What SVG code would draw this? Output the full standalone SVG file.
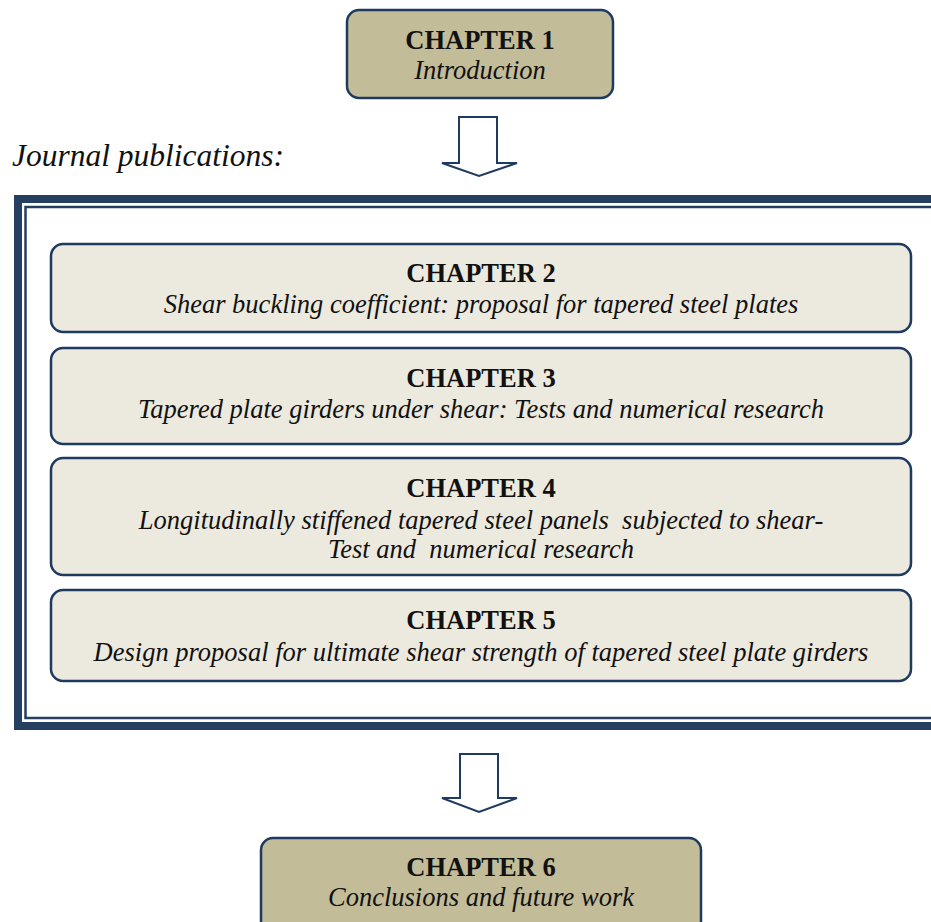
<svg xmlns="http://www.w3.org/2000/svg" width="931" height="922" viewBox="0 0 931 922">
<style>
.dark{fill:#C3BC98;stroke:#1F3A5F;stroke-width:2.5}
.light{fill:#ECE9DF;stroke:#1F3A5F;stroke-width:2.5}
.arrow{fill:#FFFFFF;stroke:#1F3A5F;stroke-width:2}
.t{font-family:"Liberation Serif",serif;font-weight:bold;font-size:26.5px;fill:#111;text-anchor:middle}
.s{font-family:"Liberation Serif",serif;font-style:italic;font-size:26.5px;fill:#111;text-anchor:middle;white-space:pre}
</style>
<rect width="931" height="922" fill="#FFFFFF"/>
<text x="12" y="166" font-family="Liberation Serif,serif" font-style="italic" font-size="31.5" fill="#111">Journal publications:</text>
<g id="frame">
<path d="M940 199 H18 V726 H940" fill="none" stroke="#243F60" stroke-width="8"/>
<path d="M940 207 H25.5 V718 H940" fill="none" stroke="#243F60" stroke-width="2.5"/>
</g>
<g id="connectors">
<path class="arrow" d="M459 117 H497 V163 H517 L479 176 L442 163 H459 Z"/>
<path class="arrow" d="M460 754 H498 V798 H517 L479 812 L442 798 H460 Z"/>
</g>
<g id="ch1">
<rect class="dark" x="347" y="10" width="266" height="88" rx="12"/>
<text class="t" x="480" y="49">CHAPTER 1</text>
<text class="s" x="480" y="79">Introduction</text>
</g>
<g id="ch2">
<rect class="light" x="51" y="244" width="860" height="88" rx="12"/>
<text class="t" x="481" y="282">CHAPTER 2</text>
<text class="s" x="481" y="313">Shear buckling coefficient: proposal for tapered steel plates</text>
</g>
<g id="ch3">
<rect class="light" x="51" y="348" width="860" height="96" rx="12"/>
<text class="t" x="481" y="387">CHAPTER 3</text>
<text class="s" x="481" y="418">Tapered plate girders under shear: Tests and numerical research</text>
</g>
<g id="ch4">
<rect class="light" x="51" y="458" width="860" height="117" rx="12"/>
<text class="t" x="481" y="497">CHAPTER 4</text>
<text class="s" x="481" y="529">Longitudinally stiffened tapered steel panels  subjected to shear-</text>
<text class="s" x="481" y="558">Test and  numerical research</text>
</g>
<g id="ch5">
<rect class="light" x="51" y="590" width="860" height="91" rx="12"/>
<text class="t" x="481" y="629">CHAPTER 5</text>
<text class="s" x="481" y="661">Design proposal for ultimate shear strength of tapered steel plate girders</text>
</g>
<g id="ch6">
<rect class="dark" x="261" y="838" width="440" height="100" rx="12"/>
<text class="t" x="481" y="876">CHAPTER 6</text>
<text class="s" x="481" y="906">Conclusions and future work</text>
</g>
</svg>
